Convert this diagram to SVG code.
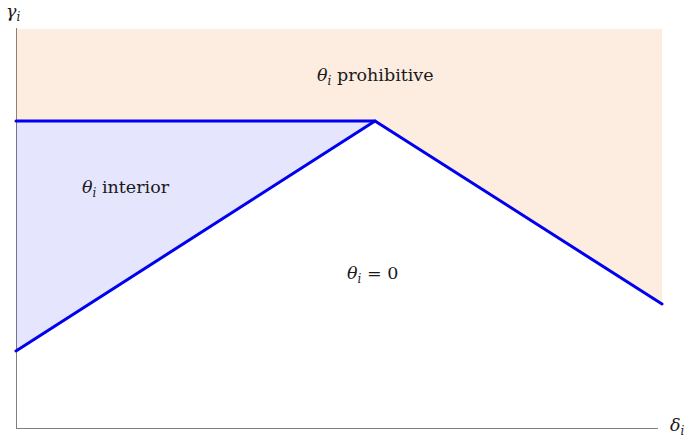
<svg xmlns="http://www.w3.org/2000/svg" width="686" height="441" viewBox="0 0 686 441">
<style>
.axis{stroke:#808080;stroke-width:1;fill:none}
.bnd{stroke:#0000ee;stroke-width:3;fill:none;stroke-linecap:round;stroke-linejoin:round}
.t{font-family:'DejaVu Serif',serif;font-size:17.5px;fill:#1a1a1a}
.m{font-style:italic}
.s{font-size:12px;font-style:italic}
</style>
<rect width="686" height="441" fill="#ffffff"/>
<g id="axes">
<line class="axis" x1="16.5" y1="28" x2="16.5" y2="428.5"/>
<line class="axis" x1="16" y1="428.5" x2="658" y2="428.5"/>
<text class="t m" x="6" y="17">γ<tspan class="s" dy="4">i</tspan></text>
<text class="t m" x="670" y="431">δ<tspan class="s" dy="4">i</tspan></text>
</g>
<g id="prohibitive">
<polygon points="16,29 662,29 662,304 375,121 16,121" fill="#f0802a" fill-opacity="0.14"/>
<text class="t" x="317" y="81"><tspan class="m">θ</tspan><tspan class="s" dy="4">i</tspan><tspan dy="-4"> prohibitive</tspan></text>
</g>
<g id="interior">
<polygon points="16,121 375,121 16,351" fill="#0000ee" fill-opacity="0.1"/>
<text class="t" x="82" y="193"><tspan class="m">θ</tspan><tspan class="s" dy="4">i</tspan><tspan dy="-4"> interior</tspan></text>
</g>
<g id="zero">
<text class="t" x="347" y="279"><tspan class="m">θ</tspan><tspan class="s" dy="4">i</tspan><tspan dy="-4"> = 0</tspan></text>
</g>
<g id="connectors">
<polyline class="bnd" points="16,121 375,121 662,304"/>
<line class="bnd" x1="16" y1="351" x2="375" y2="121"/>
</g>
</svg>
